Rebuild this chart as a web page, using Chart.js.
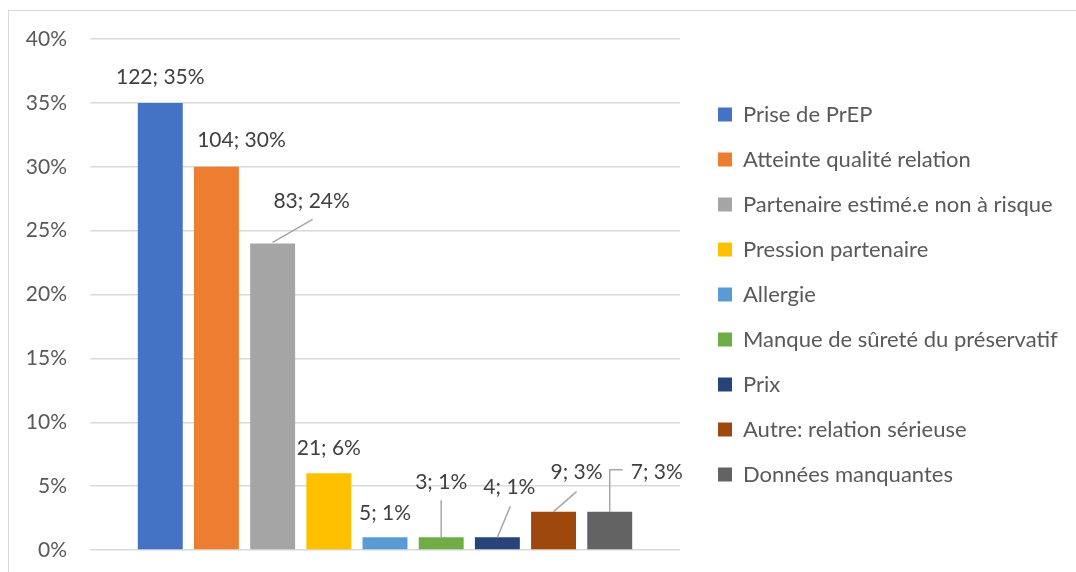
<!DOCTYPE html>
<html>
<head>
<meta charset="utf-8">
<script src="https://cdn.jsdelivr.net/npm/chart.js@4.4.0/dist/chart.umd.min.js"></script>
<style>
    html, body { margin: 0; padding: 0; background: #fff; }
    #wrap { position: relative; width: 1076px; height: 572px; overflow: hidden; }
    #frame { position: absolute; left: 8px; top: 10px; width: 1200px; height: 700px; border: 1px solid #d9d9d9; }
    #chart { position: absolute; left: 0; top: 0; }
</style>
</head>
<body>
<div id="wrap">
    <div id="frame"></div>
    <canvas id="chart" width="1076" height="572"></canvas>
</div>
<script>
// données
const categories = [''];
const seriesNames = [
    'Prise de PrEP',
    'Atteinte qualité relation',
    'Partenaire estimé.e non à risque',
    'Pression partenaire',
    'Allergie',
    'Manque de sûreté du préservatif',
    'Prix',
    'Autre: relation sérieuse',
    'Données manquantes'
];
const counts = [122, 104, 83, 21, 5, 3, 4, 9, 7];
const percents = [35, 30, 24, 6, 1, 1, 1, 3, 3];
const yTicks = [0, 5, 10, 15, 20, 25, 30, 35, 40];

const colors = ['#4472C4', '#ED7D31', '#A5A5A5', '#FFC000', '#5B9BD5', '#70AD47', '#264478', '#9E480E', '#636363'];
const FONT = 'Lato, "Open Sans", sans-serif';

// position des étiquettes (décalage par rapport au haut de la barre) et lignes de rappel
const labelLayout = [
    { dx: 0, dy: -26 },
    { dx: 25, dy: -27 },
    { dx: 39, dy: -42, leader: [[0, -1], [40, -24]] },
    { dx: 0, dy: -25 },
    { dx: 0, dy: -24 },
    { dx: 0, dy: -55, leader: [[0, 0], [0, -37]] },
    { dx: 12, dy: -50, leader: [[0, 0], [13, -31]] },
    { dx: 23, dy: -39, leader: [[0, 0], [23, -20]] },
    { dx: 47, dy: -39, leader: [[0, 0], [0, -42], [13, -42]] }
];

const dataLabels = {
    id: 'dataLabels',
    afterDatasetsDraw(chart) {
        const ctx = chart.ctx;
        ctx.save();
        chart.data.datasets.forEach((ds, i) => {
            const bar = chart.getDatasetMeta(i).data[0];
            const lay = labelLayout[i];
            if (lay.leader) {
                ctx.strokeStyle = '#a6a6a6';
                ctx.lineWidth = 1.5;
                ctx.beginPath();
                lay.leader.forEach((p, k) => {
                    if (k === 0) ctx.moveTo(bar.x + p[0], bar.y + p[1]);
                    else ctx.lineTo(bar.x + p[0], bar.y + p[1]);
                });
                ctx.stroke();
            }
            ctx.fillStyle = '#404040';
            ctx.font = '21px ' + FONT;
            ctx.textAlign = 'center';
            ctx.textBaseline = 'middle';
            ctx.fillText(counts[i] + '; ' + percents[i] + '%', bar.x + lay.dx, bar.y + lay.dy);
        });
        ctx.restore();
    }
};

// largeur fixe de la légende pour caler la zone de tracé
const legendFit = {
    id: 'legendFit',
    afterInit(chart) {
        const legend = chart.legend;
        const origFit = legend.fit;
        legend.fit = function () {
            origFit.call(this);
            this.width = 396;
        };
    },
    afterLayout(chart) {
        chart.legend.left += 15;
        chart.legend.right += 15;
    }
};

new Chart(document.getElementById('chart'), {
    type: 'bar',
    data: {
        labels: categories,
        datasets: seriesNames.map((name, i) => ({
            label: name,
            data: [percents[i]],
            backgroundColor: colors[i],
            categoryPercentage: 0.857,
            barPercentage: 0.8
        }))
    },
    options: {
        responsive: false,
        animation: false,
        layout: { padding: { top: 39, bottom: 22, left: 0, right: 0 } },
        scales: {
            x: { display: false },
            y: {
                min: 0,
                max: 40,
                afterBuildTicks(scale) {
                    scale.ticks = yTicks.map(v => ({ value: v }));
                },
                afterFit(scale) {
                    scale.width = 90;
                    scale.paddingTop = 0;
                    scale.paddingBottom = 0;
                },
                border: { display: false },
                grid: { color: '#d9d9d9', lineWidth: 1.5, drawTicks: false },
                ticks: {
                    padding: 23,
                    color: '#595959',
                    font: { family: FONT, size: 21 },
                    callback: v => v + '%'
                }
            }
        },
        plugins: {
            legend: {
                position: 'right',
                labels: {
                    boxWidth: 14,
                    boxHeight: 14,
                    padding: 23,
                    color: '#595959',
                    font: { family: FONT, size: 22 }
                }
            },
            tooltip: { enabled: false }
        }
    },
    plugins: [dataLabels, legendFit]
});
</script>
</body>
</html>
